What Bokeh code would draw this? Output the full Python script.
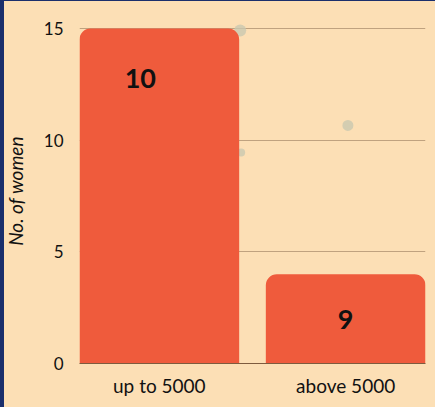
from bokeh.plotting import figure
from bokeh.models import ColumnDataSource, Range1d, FixedTicker
from bokeh.core.properties import value
from bokeh.embed import file_html
from bokeh.resources import INLINE

# data
categories = ["up to 5000", "above 5000"]
positions = [0.5, 1.5]
counts = [15, 4]
bar_labels = ["10", "9"]
label_x_offsets = [-19, 0]
label_y_offsets = [50, 45]
y_ticks = [0, 5, 10, 15]

# decorative background dots (data coordinates)
dot_x = [0.934, 1.512, 0.939]
dot_y = [14.91, 10.66, 9.45]
dot_size = [12, 11, 8]

BG = "#FCDFB5"
BAR = "#EF5B3C"
FONT = "Lato"

p = figure(width=435, height=407, output_backend="svg", toolbar_location=None,
           x_range=Range1d(0.0715, 1.9285), y_range=Range1d(0, 15.45),
           min_border_left=78, min_border_right=10, min_border_top=18, min_border_bottom=44)
p.border_fill_color = None
p.background_fill_color = None
p.outline_line_color = None
p.styles = {"background-color": BG,
            "box-shadow": "inset 4px 1px 0 #1B2F6C, 0 -2px 0 #1B2F6C"}

dots = ColumnDataSource(dict(x=dot_x, y=dot_y, s=dot_size))
p.scatter("x", "y", size="s", source=dots, color="#C9C8B0", alpha=0.8, line_color=None)

src = ColumnDataSource(dict(x=positions, top=counts, label=bar_labels,
                            xo=label_x_offsets, yo=label_y_offsets))
p.vbar(x="x", top="top", width=0.857, source=src, fill_color=BAR, line_color=None,
       border_radius=(11, 11, 0, 0))
p.text(x="x", y="top", text="label", x_offset="xo", y_offset="yo", source=src,
       text_align="center", text_baseline="middle", text_font=value(FONT),
       text_font_style="bold", text_font_size="27px", text_color="#111111")

p.xaxis.ticker = FixedTicker(ticks=positions)
p.xaxis.major_label_overrides = {pos: c for pos, c in zip(positions, categories)}
p.xaxis.major_tick_line_color = None
p.xaxis.major_tick_out = 0
p.xaxis.major_tick_in = 0
p.xaxis.minor_tick_line_color = None
p.xaxis.axis_line_color = "#7D5B3E"
p.xaxis.major_label_text_font = FONT
p.xaxis.major_label_text_font_size = "19px"
p.xaxis.major_label_text_color = "#111111"
p.xaxis.major_label_standoff = 10

p.yaxis.ticker = FixedTicker(ticks=y_ticks)
p.yaxis.major_tick_line_color = None
p.yaxis.major_tick_out = 0
p.yaxis.major_tick_in = 0
p.yaxis.minor_tick_line_color = None
p.yaxis.axis_line_color = None
p.yaxis.major_label_text_font = FONT
p.yaxis.major_label_text_font_size = "17px"
p.yaxis.major_label_text_color = "#111111"
p.yaxis.major_label_standoff = 16
p.yaxis.axis_label = "No. of women"
p.yaxis.axis_label_text_font = FONT
p.yaxis.axis_label_text_font_style = "italic"
p.yaxis.axis_label_text_font_size = "19px"
p.yaxis.axis_label_text_color = "#111111"
p.yaxis.axis_label_standoff = 14

p.xgrid.grid_line_color = None
p.ygrid.grid_line_color = "#BFA27F"
p.ygrid.grid_line_width = 1

open("out.html", "w").write(file_html(p, INLINE))
